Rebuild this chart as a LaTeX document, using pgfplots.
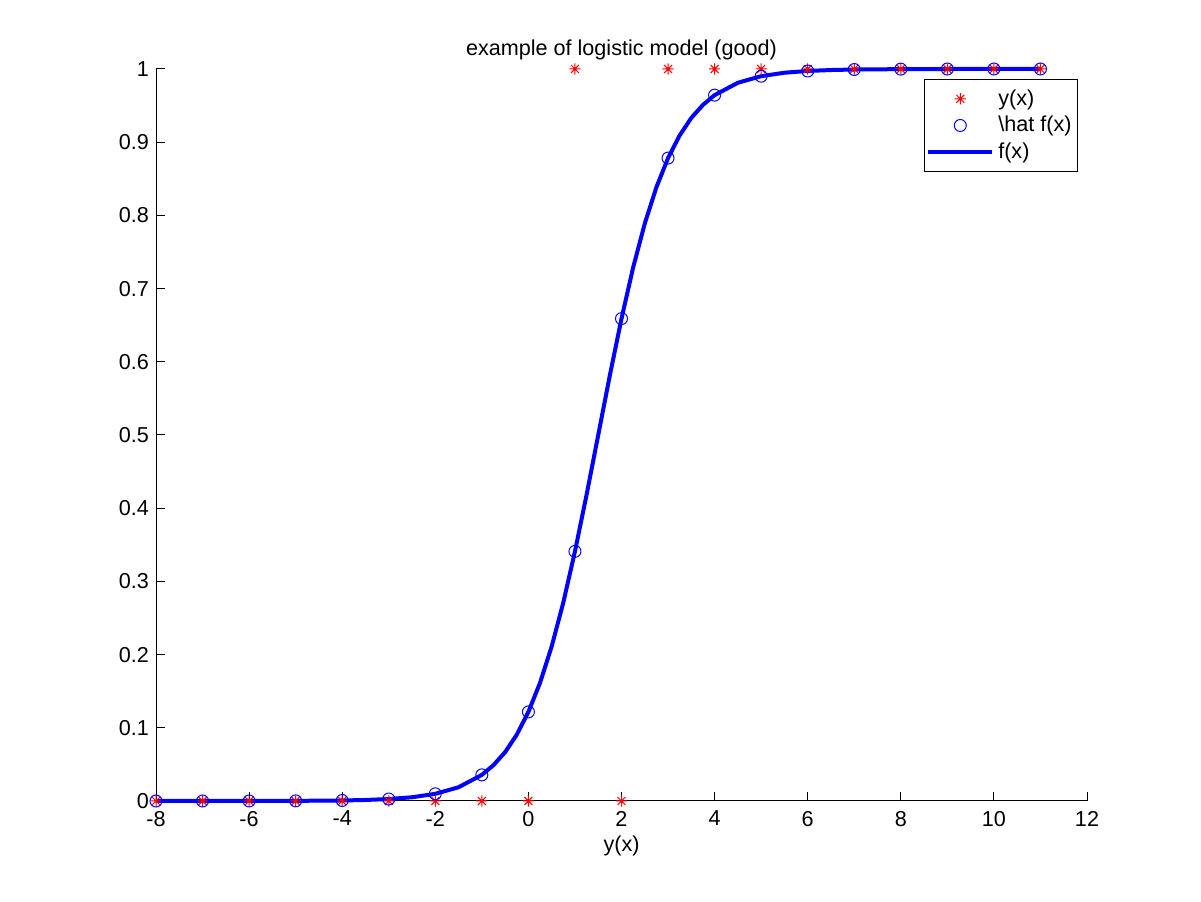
\documentclass[border=0pt]{standalone}
\usepackage{pgfplots}
\pgfplotsset{compat=1.18}
\usepackage{fontspec}
\setmainfont{Liberation Sans}
\pgfdeclareplotmark{mstar}{%
  \pgfpathmoveto{\pgfqpoint{-\pgfplotmarksize}{0pt}}\pgfpathlineto{\pgfqpoint{\pgfplotmarksize}{0pt}}%
  \pgfpathmoveto{\pgfqpoint{0pt}{-\pgfplotmarksize}}\pgfpathlineto{\pgfqpoint{0pt}{\pgfplotmarksize}}%
  \pgfpathmoveto{\pgfqpoint{-0.707\pgfplotmarksize}{-0.707\pgfplotmarksize}}\pgfpathlineto{\pgfqpoint{0.707\pgfplotmarksize}{0.707\pgfplotmarksize}}%
  \pgfpathmoveto{\pgfqpoint{-0.707\pgfplotmarksize}{0.707\pgfplotmarksize}}\pgfpathlineto{\pgfqpoint{0.707\pgfplotmarksize}{-0.707\pgfplotmarksize}}%
  \pgfusepathqstroke}
\newcommand{\mfont}{\fontsize{10.8}{12}\selectfont}
\begin{document}
\begin{tikzpicture}
\path[use as bounding box] (0,0) rectangle (600.5pt,450.5pt);
\begin{axis}[
  at={(78pt,50pt)}, anchor=south west,
  scale only axis, width=465.5pt, height=366pt,
  xmin=-8, xmax=12, ymin=0, ymax=1,
  enlargelimits=false, clip=false,
  axis x line*=bottom, axis y line*=left,
  axis line style={line width=0.5pt},
  tick align=inside, major tick length=4.5pt,
  tick style={line width=0.5pt, black},
  xtick={-8,-6,...,12}, ytick={0,0.1,...,1},
  yticklabels={0,0.1,0.2,0.3,0.4,0.5,0.6,0.7,0.8,0.9,1},
  /pgf/number format/assume math mode=true,
  ticklabel style={font=\mfont},
  xticklabel style={yshift=-1.5pt},
  xlabel={y(x)}, xlabel style={font=\mfont, yshift=2pt},
  title={example of logistic model (good)}, title style={font=\mfont, yshift=-5pt},
  legend style={at={(rel axis cs:1,1)}, anchor=north east, xshift=-4.5pt, yshift=-5pt,
    draw=black, line width=0.5pt, fill=white, font=\mfont,
    inner xsep=1pt, inner ysep=3pt, row sep=0pt, cells={anchor=west},
    nodes={inner sep=2pt}},
  legend image code/.code={\draw[mark repeat=2,mark phase=2,#1] plot coordinates {(0pt,0pt) (16pt,0pt) (32pt,0pt)};},
]
\addplot[only marks, mark=mstar, mark size=2.8pt, red, line width=0.5pt] coordinates {
(-8,0) (-7,0) (-6,0) (-5,0) (-4,0) (-3,0) (-2,0) (-1,0) (0,0) (1,1) (2,0) (3,1) (4,1) (5,1) (6,1) (7,1) (8,1) (9,1) (10,1) (11,1)};
\addlegendentry{y(x)}
\addplot[only marks, mark=o, mark size=3pt, blue, line width=0.5pt] coordinates {
(-8,0) (-7,0.00001) (-6,0.00005) (-5,0.0002) (-4,0.0007) (-3,0.0027) (-2,0.0098) (-1,0.0357) (0,0.1217) (1,0.341) (2,0.659) (3,0.8783) (4,0.9643) (5,0.9902) (6,0.9973) (7,0.9993) (8,0.9998) (9,1) (10,1) (11,1)};
\addlegendentry{\textbackslash hat f(x)}
\addplot[blue, line width=2pt, no marks] coordinates {
(-8,0) (-6,0.00005) (-5,0.0002) (-4,0.0007) (-3.5,0.0014) (-3,0.0027) (-2.5,0.0051) (-2,0.0098) (-1.5,0.0188) (-1,0.0357) (-0.75,0.049) (-0.5,0.0668) (-0.25,0.0906) (0,0.1217) (0.25,0.1615) (0.5,0.2111) (0.75,0.2712) (1,0.341) (1.25,0.4184) (1.5,0.5) (1.75,0.5816) (2,0.659) (2.25,0.7288) (2.5,0.7889) (2.75,0.8385) (3,0.8783) (3.25,0.9094) (3.5,0.9332) (3.75,0.951) (4,0.9643) (4.5,0.9812) (5,0.9902) (5.5,0.9949) (6,0.9973) (6.5,0.9986) (7,0.9993) (8,0.9998) (9,1) (11,1)};
\addlegendentry{f(x)}
\end{axis}
\end{tikzpicture}
\end{document}
